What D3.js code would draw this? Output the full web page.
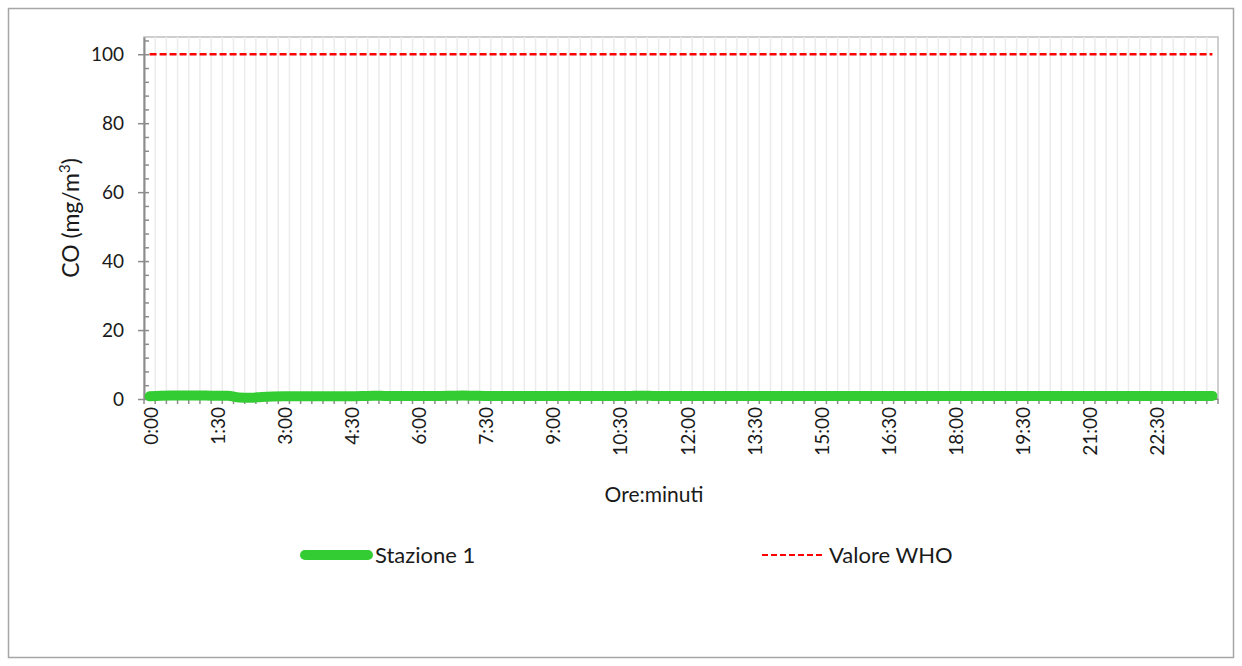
<!DOCTYPE html>
<html>
<head>
  <meta charset="utf-8">
  <title>CO - Stazione 1</title>
  <script src="https://d3js.org/d3.v7.min.js"></script>
  <style>
    body { margin: 0; background: #fff; }
    text { font-family: Lato, "Liberation Sans", sans-serif; fill: #1a1a1a; }
  </style>
</head>
<body>
<div id="vis"></div>
<script>
  // data: 15 minute readings over the day
  var times = []
  for (var h = 0; h < 24; h++) {
    for (var m = 0; m < 60; m += 15) {
      times.push(h + ":" + (m < 10 ? "0" + m : m))
    }
  }

  // Stazione 1 CO (mg/m3)
  var stazione1 = [
    0.8, 0.95, 1.0, 1.0, 1.0, 1.0, 0.95, 0.95,   // 0:00 - 1:45
    0.4, 0.35, 0.6, 0.75, 0.8, 0.8, 0.8, 0.8,     // 2:00 - 3:45
    0.8, 0.8, 0.8, 0.85, 0.95, 0.9, 0.85, 0.85,   // 4:00 - 5:45
    0.9, 0.9, 0.9, 0.95, 1.0, 0.95, 0.9, 0.9,     // 6:00 - 7:45
    0.9, 0.9, 0.9, 0.9, 0.9, 0.9, 0.9, 0.9,       // 8:00 - 9:45
    0.9, 0.9, 0.85, 0.9, 0.95, 0.9, 0.85, 0.9,    // 10:00 - 11:45
    0.9, 0.9, 0.9, 0.9, 0.9, 0.9, 0.9, 0.9,       // 12:00 - 13:45
    0.9, 0.9, 0.9, 0.9, 0.9, 0.9, 0.9, 0.9,       // 14:00 - 15:45
    0.9, 0.9, 0.9, 0.9, 0.9, 0.9, 0.9, 0.9,       // 16:00 - 17:45
    0.9, 0.9, 0.9, 0.9, 0.9, 0.9, 0.9, 0.9,       // 18:00 - 19:45
    0.9, 0.9, 0.9, 0.9, 0.9, 0.9, 0.9, 0.9,       // 20:00 - 21:45
    0.9, 0.9, 0.9, 0.9, 0.9, 0.9, 0.9, 0.9        // 22:00 - 23:45
  ]
  var whoValue = times.map(function () { return 100 })

  var yMajorTicks = [0, 20, 40, 60, 80, 100]
  var yMax = 105

  var width = 1242, height = 666
  var plot = { left: 144, top: 37, right: 1218, bottom: 399 }

  var svg = d3.select("#vis").append("svg")
    .attr("width", width)
    .attr("height", height)

  // outer chart border
  svg.append("rect")
    .attr("x", 8.5).attr("y", 8.5)
    .attr("width", width - 17).attr("height", height - 17)
    .attr("fill", "#fff")
    .attr("stroke", "#a6a6a6")
    .attr("stroke-width", 1.5)

  var x = d3.scaleBand()
    .domain(times)
    .range([plot.left, plot.right])

  var y = d3.scaleLinear()
    .domain([0, yMax])
    .range([plot.bottom, plot.top])

  function cx(d) { return x(d) + x.bandwidth() / 2 }

  // plot area border
  svg.append("rect")
    .attr("x", plot.left).attr("y", plot.top)
    .attr("width", plot.right - plot.left).attr("height", plot.bottom - plot.top)
    .attr("fill", "none")
    .attr("stroke", "#bfbfbf")
    .attr("stroke-width", 1.5)

  // vertical gridlines at category boundaries
  svg.append("g")
    .selectAll("line")
    .data(times.slice(1))
    .enter().append("line")
    .attr("x1", function (d) { return x(d) }).attr("x2", function (d) { return x(d) })
    .attr("y1", plot.top).attr("y2", plot.bottom)
    .attr("stroke", "#ececec")
    .attr("stroke-width", 1.5)

  // y axis
  var yMinor = d3.range(4, yMax, 4).filter(function (v) { return v % 20 != 0 })
  svg.append("g")
    .attr("transform", "translate(" + plot.left + ",0)")
    .call(d3.axisLeft(y).tickValues(yMinor).tickSize(-5).tickFormat(""))
    .call(function (g) {
      g.select(".domain").remove()
      g.selectAll("line").attr("stroke", "#8c8c8c").attr("stroke-width", 1.5)
    })
  var yAxis = svg.append("g")
    .attr("transform", "translate(" + plot.left + ",0)")
    .call(d3.axisLeft(y).tickValues(yMajorTicks).tickSizeInner(6).tickSizeOuter(0).tickPadding(14))
  yAxis.select(".domain").attr("stroke", "#8c8c8c").attr("stroke-width", 2)
  yAxis.selectAll(".tick line").attr("x2", 5).attr("x1", -6).attr("stroke", "#8c8c8c").attr("stroke-width", 1.5)
  yAxis.selectAll(".tick text")
    .attr("font-size", 19)
    .attr("fill", "#1a1a1a")
    .style("font-family", "Lato, 'Liberation Sans', sans-serif")

  // x axis tick marks at category boundaries
  var xAxisG = svg.append("g")
  xAxisG.append("line")
    .attr("x1", plot.left).attr("x2", plot.right)
    .attr("y1", plot.bottom).attr("y2", plot.bottom)
    .attr("stroke", "#8c8c8c").attr("stroke-width", 2)
  xAxisG.selectAll("line.tk")
    .data(times.concat(["end"]))
    .enter().append("line")
    .attr("class", "tk")
    .attr("x1", function (d) { return d == "end" ? plot.right : x(d) })
    .attr("x2", function (d) { return d == "end" ? plot.right : x(d) })
    .attr("y1", plot.bottom).attr("y2", plot.bottom + 5)
    .attr("stroke", "#8c8c8c").attr("stroke-width", 1.5)

  // x labels, every 6th category
  var xLabels = times.filter(function (d, i) { return i % 6 == 0 })
  xAxisG.selectAll("text")
    .data(xLabels)
    .enter().append("text")
    .attr("transform", function (d) { return "translate(" + (cx(d) + 8) + "," + (plot.bottom + 8) + ") rotate(-90)" })
    .attr("text-anchor", "end")
    .attr("font-size", 19)
    .text(function (d) { return d })

  // WHO limit
  var line = d3.line()
    .x(function (d, i) { return cx(times[i]) })
    .y(function (d) { return y(d) })

  svg.append("path")
    .datum(whoValue)
    .attr("d", line)
    .attr("fill", "none")
    .attr("stroke", "#ff0000")
    .attr("stroke-width", 2.5)
    .attr("stroke-dasharray", "7,3")

  // Stazione 1
  svg.append("path")
    .datum(stazione1)
    .attr("d", line.curve(d3.curveMonotoneX))
    .attr("fill", "none")
    .attr("stroke", "#33cc33")
    .attr("stroke-width", 10)
    .attr("stroke-linecap", "round")
    .attr("stroke-linejoin", "round")

  // axis titles
  svg.append("text")
    .attr("transform", "translate(79," + ((plot.top + plot.bottom) / 2) + ") rotate(-90)")
    .attr("text-anchor", "middle")
    .attr("font-size", 23)
    .html("CO (mg/m<tspan baseline-shift='super' font-size='15'>3</tspan>)")

  svg.append("text")
    .attr("x", 654).attr("y", 502)
    .attr("text-anchor", "middle")
    .attr("font-size", 21)
    .text("Ore:minuti")

  // legend
  var legend = svg.append("g")
  legend.append("line")
    .attr("x1", 305).attr("x2", 368).attr("y1", 555).attr("y2", 555)
    .attr("stroke", "#33cc33").attr("stroke-width", 10).attr("stroke-linecap", "round")
  legend.append("text")
    .attr("x", 375).attr("y", 563)
    .attr("font-size", 22)
    .text("Stazione 1")
  legend.append("line")
    .attr("x1", 762).attr("x2", 824).attr("y1", 555).attr("y2", 555)
    .attr("stroke", "#ff0000").attr("stroke-width", 2).attr("stroke-dasharray", "6,3")
  legend.append("text")
    .attr("x", 829).attr("y", 563)
    .attr("font-size", 22)
    .text("Valore WHO")
</script>
</body>
</html>
